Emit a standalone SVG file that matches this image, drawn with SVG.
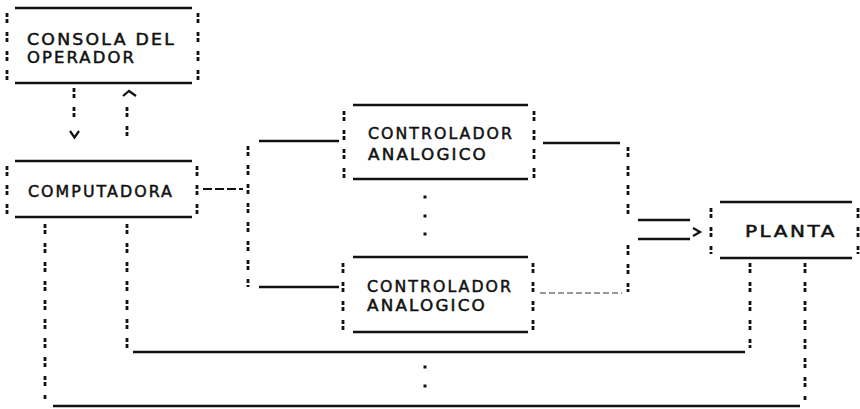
<svg xmlns="http://www.w3.org/2000/svg" width="860" height="409" viewBox="0 0 860 409">
<style>
  .bg { fill: #ffffff; }
  .h { stroke: #111; stroke-width: 2.6; fill: none; }
  .c { stroke: #111; stroke-width: 2.8; fill: none; stroke-dasharray: 4 2 4 9; }
  .d { stroke: #111; stroke-width: 2.2; fill: none; stroke-dasharray: 9 3; }
  .f { stroke: #777; stroke-width: 1.4; fill: none; stroke-dasharray: 6 3; }
  .a { stroke: #111; stroke-width: 2.2; fill: none; stroke-linejoin: miter; }
  .dot { fill: #111; }
  text { font-family: "DejaVu Sans", "Liberation Sans", sans-serif; font-size: 15.5px; letter-spacing: 2px; fill: #111; stroke: #111; stroke-width: 0.5; }
</style>
<rect class="bg" x="0" y="0" width="860" height="409"/>

<g id="consola">
  <line class="h" x1="15" y1="8" x2="192" y2="8"/>
  <line class="h" x1="15" y1="83" x2="192" y2="83"/>
  <line class="c" x1="7" y1="13" x2="7" y2="82"/>
  <line class="c" x1="198" y1="13" x2="198" y2="82"/>
  <text x="27" y="45" textLength="149" lengthAdjust="spacingAndGlyphs">CONSOLA DEL</text>
  <text x="27" y="63" textLength="109" lengthAdjust="spacingAndGlyphs">OPERADOR</text>
</g>

<g id="computadora">
  <line class="h" x1="15" y1="161" x2="192" y2="161"/>
  <line class="h" x1="15" y1="217" x2="192" y2="217"/>
  <line class="c" x1="7" y1="166" x2="7" y2="214"/>
  <line class="c" x1="197" y1="166" x2="197" y2="214"/>
  <text x="28" y="197" textLength="146" lengthAdjust="spacingAndGlyphs">COMPUTADORA</text>
</g>

<g id="controlador1">
  <line class="h" x1="353" y1="105" x2="528" y2="105"/>
  <line class="h" x1="353" y1="179" x2="528" y2="179"/>
  <line class="c" x1="344" y1="111" x2="344" y2="178"/>
  <line class="c" x1="534" y1="111" x2="534" y2="178"/>
  <text x="368" y="139" textLength="146" lengthAdjust="spacingAndGlyphs">CONTROLADOR</text>
  <text x="368" y="160" textLength="120" lengthAdjust="spacingAndGlyphs">ANALOGICO</text>
</g>

<g id="controlador2">
  <line class="h" x1="353" y1="257" x2="528" y2="257"/>
  <line class="h" x1="353" y1="332" x2="528" y2="332"/>
  <line class="c" x1="343" y1="263" x2="343" y2="330"/>
  <line class="c" x1="533" y1="263" x2="533" y2="330"/>
  <text x="367" y="292" textLength="146" lengthAdjust="spacingAndGlyphs">CONTROLADOR</text>
  <text x="367" y="311" textLength="120" lengthAdjust="spacingAndGlyphs">ANALOGICO</text>
</g>

<g id="planta">
  <line class="h" x1="720" y1="202" x2="852" y2="202"/>
  <line class="h" x1="720" y1="258" x2="852" y2="258"/>
  <line class="c" x1="711" y1="208" x2="711" y2="254"/>
  <line class="c" x1="858" y1="208" x2="858" y2="254"/>
  <text x="745" y="237" textLength="92" lengthAdjust="spacingAndGlyphs">PLANTA</text>
</g>

<g id="connectors">
  <line class="c" x1="74" y1="88" x2="74" y2="120"/>
  <polyline class="a" points="70,131 74.5,137.5 79,131"/>
  <polyline class="a" points="123,96 129,91 136,96"/>
  <line class="c" x1="127" y1="107" x2="127" y2="141"/>
  <line class="d" x1="203" y1="189" x2="243" y2="189"/>
  <line class="c" x1="248" y1="146" x2="248" y2="287"/>
  <line class="h" x1="259" y1="141" x2="339" y2="141"/>
  <line class="h" x1="259" y1="287" x2="339" y2="287"/>
  <rect class="dot" x="423.5" y="195.5" width="3" height="3"/>
  <rect class="dot" x="423.5" y="214.5" width="3" height="3"/>
  <rect class="dot" x="423.5" y="232.5" width="3" height="3"/>
  <line class="h" x1="543" y1="143" x2="620" y2="143"/>
  <line class="c" x1="628" y1="147" x2="628" y2="217"/>
  <line class="f" x1="540" y1="293" x2="622" y2="293"/>
  <line class="c" x1="628" y1="245" x2="628" y2="292"/>
  <line class="h" x1="638" y1="220" x2="690" y2="220"/>
  <line class="h" x1="638" y1="239" x2="690" y2="239"/>
  <polyline class="a" points="693,228 700,232 693,236"/>
  <line class="c" x1="750" y1="263" x2="750" y2="348"/>
  <line class="c" x1="805" y1="263" x2="805" y2="401"/>
  <line class="c" x1="45" y1="224" x2="45" y2="401"/>
  <line class="c" x1="127" y1="224" x2="127" y2="348"/>
  <line class="h" x1="133" y1="352" x2="745" y2="352"/>
  <line class="h" x1="53" y1="406" x2="800" y2="406"/>
  <rect class="dot" x="423.5" y="365.5" width="3" height="3"/>
  <rect class="dot" x="423.5" y="384.5" width="3" height="3"/>
</g>
</svg>
